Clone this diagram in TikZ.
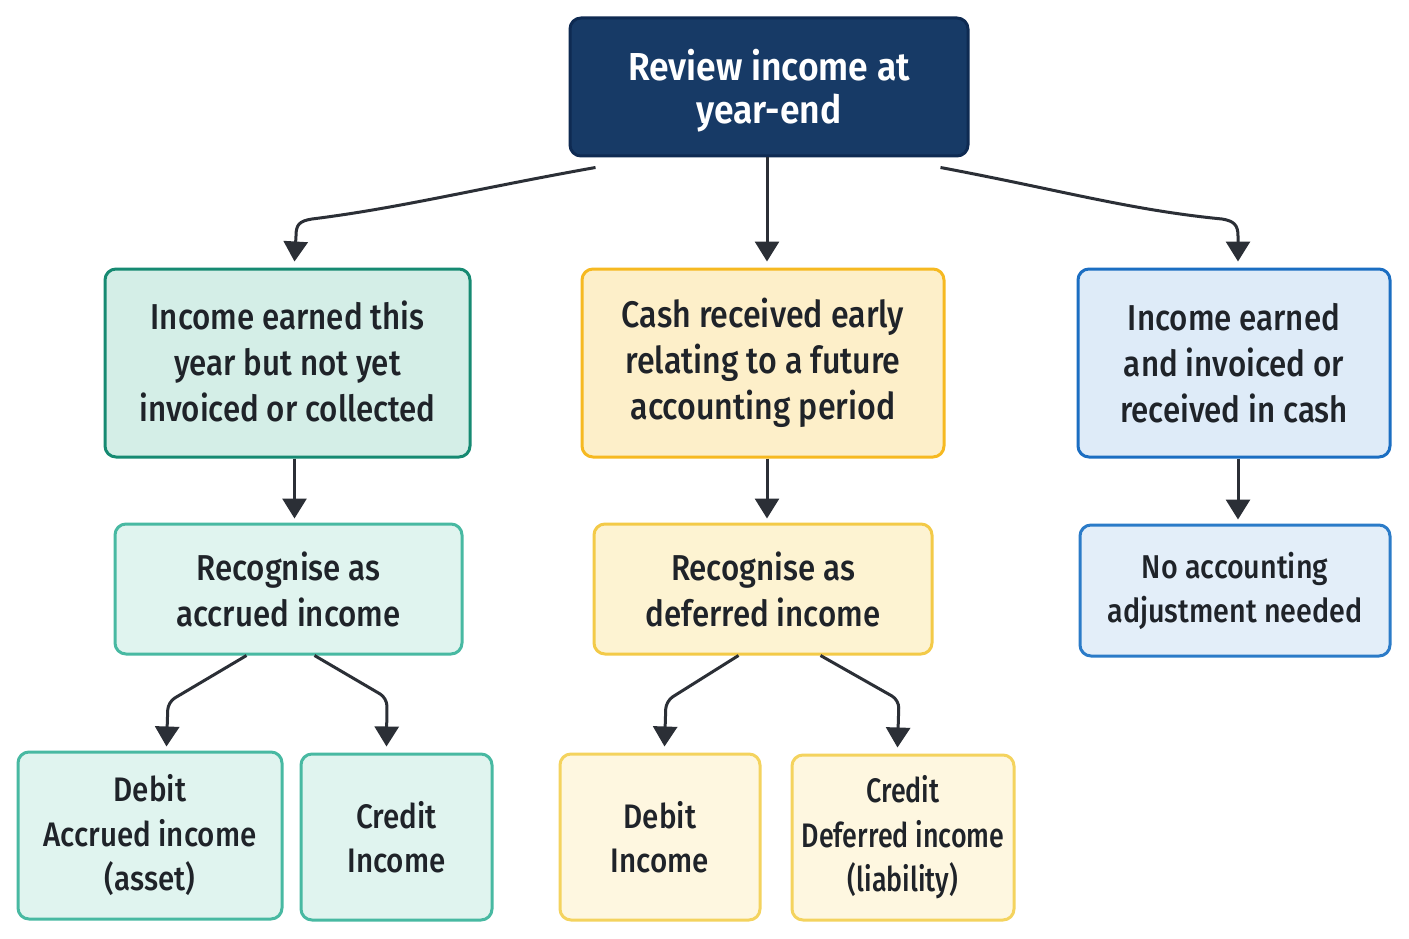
\documentclass[tikz,border=0pt]{standalone}
\usepackage{fontspec}
\setmainfont{Fira Sans}[UprightFont={* Medium},BoldFont={* SemiBold},FakeStretch=0.87]
\newfontfamily\topfont{Fira Sans}[UprightFont={* SemiBold},FakeStretch=0.91]
\newfontfamily\narrowfont{Fira Sans}[UprightFont={* Medium},FakeStretch=0.79]
\usetikzlibrary{arrows.meta,calc}
\definecolor{navyF}{HTML}{173A66}\definecolor{navyB}{HTML}{0E2A52}
\definecolor{g1F}{HTML}{D4EEE7}\definecolor{g1B}{HTML}{168A72}
\definecolor{y1F}{HTML}{FDEFC9}\definecolor{y1B}{HTML}{F6B921}
\definecolor{b1F}{HTML}{DEEBF8}\definecolor{b1B}{HTML}{1B6EC2}
\definecolor{g2F}{HTML}{E0F4EF}\definecolor{g2B}{HTML}{48B9A2}
\definecolor{y2F}{HTML}{FDF3D2}\definecolor{y2B}{HTML}{F3CA48}
\definecolor{b2F}{HTML}{E3EEF9}\definecolor{b2B}{HTML}{2B7BC8}
\definecolor{y3F}{HTML}{FEF7E0}\definecolor{y3B}{HTML}{F4D35E}
\definecolor{ink}{HTML}{1F2329}\definecolor{arr}{HTML}{2B2F36}
\begin{document}
\begin{tikzpicture}[x=1pt,y=-1pt,
  box/.style={draw,line width=3pt,rounded corners=11pt,align=center,inner sep=0pt,text=ink,
    font=\fontsize{36}{46}\selectfont},
  smallbox/.style={box,font=\fontsize{34}{44.5}\selectfont},
  conn/.style={draw=arr,line width=3pt,-{Triangle[width=24pt,length=20pt]}},
]
\useasboundingbox[fill=white] (0,0) rectangle (1409,939);
\node[box,draw=navyB,fill=navyF,minimum width=398pt,minimum height=138pt] (top) at (769,87) {};
\node[align=center,inner sep=0pt,text=white,font=\topfont\fontsize{39}{43}\selectfont]
  (topT) at ($(top.center)+(0,4)$) {Review income at\\year-end};
\node[box,draw=g1B,fill=g1F,minimum width=365pt,minimum height=188pt] (g1) at (287.5,363)
  {\raisebox{3pt}{Income earned this}\\\raisebox{3pt}{year but not yet}\\\raisebox{3pt}{invoiced or collected}};
\node[box,draw=y1B,fill=y1F,minimum width=362pt,minimum height=188pt,
  font=\fontsize{37}{46}\selectfont] (y1) at (763,363)
  {Cash received early\\relating to a future\\accounting period};
\node[box,draw=b1B,fill=b1F,minimum width=312pt,minimum height=188pt] (b1) at (1234,363)
  {Income earned\\and invoiced or\\received in cash};
\node[box,draw=g2B,fill=g2F,minimum width=347pt,minimum height=130pt] (g2) at (288.5,589)
  {Recognise as\\accrued income};
\node[box,draw=y2B,fill=y2F,minimum width=338pt,minimum height=130pt] (y2) at (763,589)
  {Recognise as\\deferred income};
\node[box,draw=b2B,fill=b2F,minimum width=310pt,minimum height=131pt,
  font=\fontsize{33}{44}\selectfont] (b2) at (1235,590.5)
  {No accounting\\adjustment needed};
\node[smallbox,draw=g2B,fill=g2F,minimum width=264pt,minimum height=167pt] (g3a) at (150,835.5)
  {Debit\\Accrued income\\(asset)};
\node[smallbox,draw=g2B,fill=g2F,minimum width=191pt,minimum height=166pt] (g3b) at (396.5,837)
  {Credit\\Income};
\node[smallbox,draw=y3B,fill=y3F,minimum width=200pt,minimum height=166pt] (y3a) at (660,837)
  {Debit\\Income};
\node[smallbox,draw=y3B,fill=y3F,minimum width=222pt,minimum height=165pt,
  font=\narrowfont\fontsize{34}{44.5}\selectfont] (y3b) at (903,837.5)
  {Credit\\Deferred income\\(liability)};
% top-level connectors
\draw[conn] ($(top.south west)+(27,10)$) .. controls (480,188) and (400,208) .. (312,219)
  .. controls (299,221) and (296,225) .. (296,236) -- ($(g1.north west)+(191,-6)$);
\draw[conn] ($(top.south)+(-2,0)$) -- ($(y1.north)+(4,-6)$);
\draw[conn] ($(top.south east)+(-29,10)$) .. controls (1060,190) and (1130,210) .. (1222,219)
  .. controls (1234,221) and (1238,225) .. (1238,236) -- ($(b1.north)+(4,-6)$);
% second level
\draw[conn] ($(g1.south west)+(191,0)$) -- ($(g2.north west)+(181,-4)$);
\draw[conn] ($(y1.south)+(4,0)$) -- ($(y2.north)+(4,-4)$);
\draw[conn] ($(b1.south)+(4,0)$) -- ($(b2.north)+(3,-4)$);
% third level
\draw[conn,rounded corners=8pt] ($(g2.south west)+(133,0)$) -- (168,702) -- ($(g3a.north west)+(150,-4)$);
\draw[conn,rounded corners=8pt] ($(g2.south west)+(201,0)$) -- (387,698) -- ($(g3b.north west)+(87,-6)$);
\draw[conn,rounded corners=8pt] ($(y2.south west)+(146,0)$) -- (666,701) -- ($(y3a.north west)+(106,-6)$);
\draw[conn,rounded corners=8pt] ($(y2.south west)+(228,0)$) -- (899,700) -- ($(y3b.north west)+(107,-6)$);
\end{tikzpicture}
\end{document}
